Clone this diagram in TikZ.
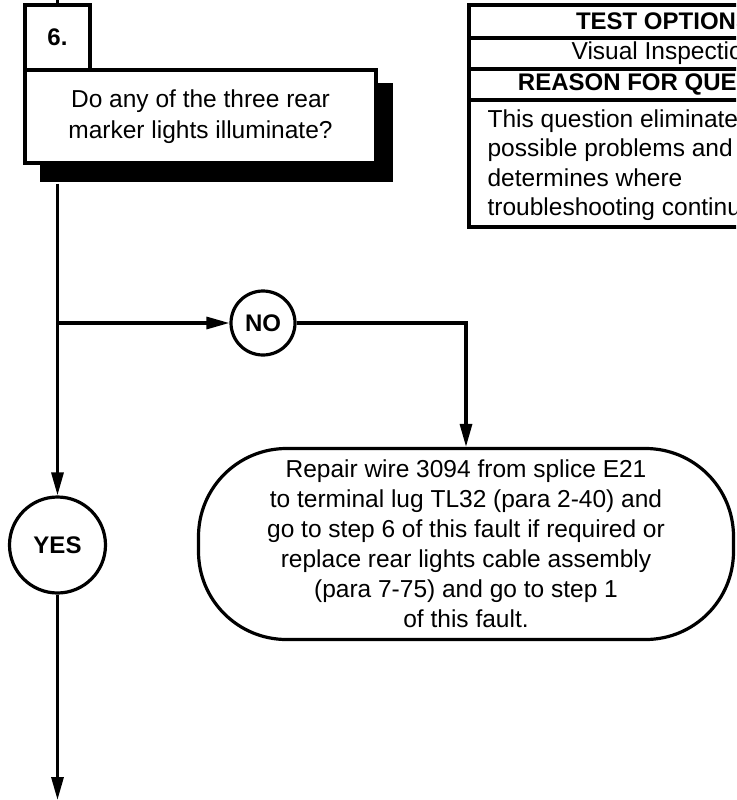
\documentclass[tikz,border=0pt]{standalone}
\usepackage{fontspec}
\setmainfont{Liberation Sans}
\usetikzlibrary{arrows.meta}
\usetikzlibrary{calc}

\begin{document}
\begin{tikzpicture}[x=1pt,y=-1pt,line width=3.2pt,
  txt/.style={font=\fontsize{24.5}{30}\selectfont},
  arr/.style={-{Triangle[length=23pt,width=12pt]}},
  ring/.style={circle,draw,fill=white,inner sep=0pt,txt,font=\fontsize{24}{30}\selectfont\bfseries}]
\useasboundingbox (0,0) rectangle (736,800);
\clip (0,0) rectangle (736,800);
% step 6 question with its shadow
\node[fill=black,minimum width=353,minimum height=99,inner sep=0pt] (shade) at (216.5,132.5) {};
\node[draw,fill=white,minimum width=351,minimum height=93,inner sep=0pt,align=center,
      font=\fontsize{24.5}{31.5}\selectfont] (quest) at (200.5,116.5)
      {Do any of the three rear\\marker lights illuminate?};
\node[draw,fill=white,minimum width=65,minimum height=65,inner sep=0pt,txt,font=\fontsize{24}{30}\selectfont\bfseries]
      (step) at (57.5,37.5) {6.};
\coordinate (top) at (57.5,0);
\draw (top) -- (step.north);
% test options table
\draw[line width=4.5pt] (469,5) rectangle (859,227);
\draw[line width=3.6pt] (469,38) -- (859,38);
\draw[line width=3.6pt] (469,69) -- (859,69);
\draw[line width=3.6pt] (469,100) -- (859,100);
\node[txt,font=\fontsize{24}{30}\selectfont\bfseries] (opts) at (664,21.5) {TEST OPTIONS};
\node[txt] (visual) at (664,53.5) {Visual Inspection};
\node[txt,font=\fontsize{24}{30}\selectfont\bfseries] (reason) at (664,84.5) {REASON FOR QUESTION};
\node[anchor=west,inner sep=0pt,align=left,txt,font=\fontsize{24.5}{29.5}\selectfont] (why) at (486,165)
      {This question eliminates\\possible problems and\\determines where\\troubleshooting continues.};
% answers
\node[ring,minimum size=64] (no) at (263,323) {NO};
\node[ring,minimum size=96] (yes) at (57.5,545) {YES};
\node[draw,fill=white,rounded corners=88pt,minimum width=535,minimum height=191,inner sep=0pt,
      align=center,txt] (fix) at (466,544)
      {Repair wire 3094 from splice E21\\to terminal lug TL32 (para 2-40) and\\go to step 6 of this fault if required or\\replace rear lights cable assembly\\(para 7-75) and go to step 1\\of this fault.};
\coordinate (down) at (57.5,800);
\draw[arr] (step |- shade.south) -- (yes.north);
\draw[arr] (step |- no) -- (no.west);
\draw[arr] (no.east) -| (fix.north);
\draw[arr] (yes.south) -- (down);
\end{tikzpicture}
\end{document}
